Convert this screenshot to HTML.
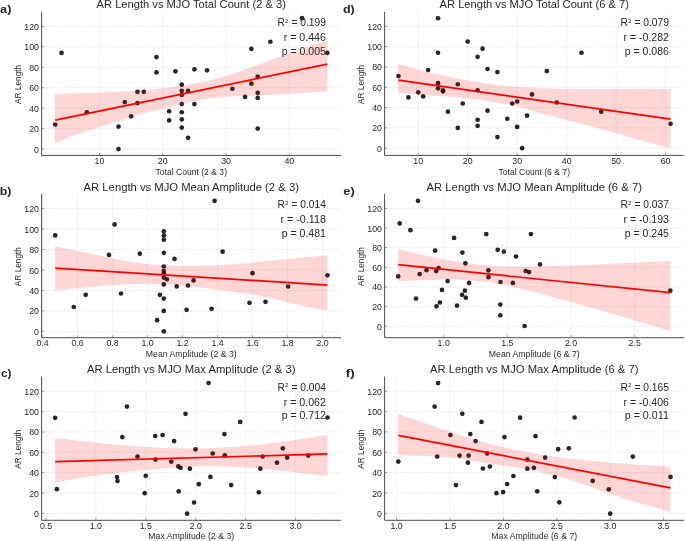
<!DOCTYPE html>
<html><head><meta charset="utf-8"><style>
html,body{margin:0;padding:0;background:#fff;overflow:hidden;}
svg{display:block;will-change:transform;}
text{font-family:"Liberation Sans",sans-serif;}
</style></head><body>
<svg width="685" height="541" viewBox="0 0 685 541">
<rect width="685" height="541" fill="#fff"/>
<path d="M41.6 149.05H340.9 M41.6 128.61H340.9 M41.6 108.17H340.9 M41.6 87.72H340.9 M41.6 67.28H340.9 M41.6 46.84H340.9 M41.6 26.4H340.9 M99.5 11.8V155.45 M162.78 11.8V155.45 M226.06 11.8V155.45 M289.34 11.8V155.45" stroke="#e0e0e0" stroke-width="0.8" stroke-dasharray="1.1 1.1" fill="none"/>
<g fill="#000" fill-opacity="0.85"><circle cx="55.21" cy="124.52" r="2.35"/><circle cx="61.53" cy="52.97" r="2.35"/><circle cx="86.85" cy="112.26" r="2.35"/><circle cx="118.49" cy="126.56" r="2.35"/><circle cx="118.49" cy="149.05" r="2.35"/><circle cx="124.81" cy="102.03" r="2.35"/><circle cx="131.14" cy="116.34" r="2.35"/><circle cx="137.47" cy="91.81" r="2.35"/><circle cx="143.8" cy="91.81" r="2.35"/><circle cx="137.47" cy="103.06" r="2.35"/><circle cx="156.45" cy="57.06" r="2.35"/><circle cx="156.45" cy="72.39" r="2.35"/><circle cx="169.11" cy="111.23" r="2.35"/><circle cx="169.11" cy="120.43" r="2.35"/><circle cx="175.44" cy="71.37" r="2.35"/><circle cx="181.77" cy="84.66" r="2.35"/><circle cx="181.77" cy="90.79" r="2.35"/><circle cx="181.77" cy="94.88" r="2.35"/><circle cx="181.77" cy="104.08" r="2.35"/><circle cx="181.77" cy="112.26" r="2.35"/><circle cx="181.77" cy="119.41" r="2.35"/><circle cx="181.77" cy="127.59" r="2.35"/><circle cx="188.09" cy="90.79" r="2.35"/><circle cx="188.09" cy="137.81" r="2.35"/><circle cx="194.42" cy="69.33" r="2.35"/><circle cx="194.42" cy="104.08" r="2.35"/><circle cx="207.08" cy="70.35" r="2.35"/><circle cx="232.39" cy="88.75" r="2.35"/><circle cx="245.05" cy="96.92" r="2.35"/><circle cx="251.37" cy="48.89" r="2.35"/><circle cx="251.37" cy="83.64" r="2.35"/><circle cx="257.7" cy="76.48" r="2.35"/><circle cx="257.7" cy="92.84" r="2.35"/><circle cx="257.7" cy="97.95" r="2.35"/><circle cx="257.7" cy="128.61" r="2.35"/><circle cx="270.36" cy="41.73" r="2.35"/><circle cx="302" cy="18.22" r="2.35"/><circle cx="327.31" cy="52.97" r="2.35"/></g>
<polygon points="54.9,93.85 59.52,93.69 64.14,93.55 68.76,93.41 73.37,93.27 77.99,93.14 82.61,93.01 87.23,92.88 91.85,92.75 96.47,92.6 101.09,92.45 105.71,92.29 110.32,92.11 114.94,91.92 119.56,91.71 124.18,91.47 128.8,91.22 133.42,90.93 138.04,90.62 142.65,90.28 147.27,89.9 151.89,89.49 156.51,89.04 161.13,88.55 165.75,88.02 170.37,87.44 174.98,86.81 179.6,86.13 184.22,85.4 188.84,84.62 193.46,83.78 198.08,82.87 202.7,81.91 207.32,80.88 211.93,79.78 216.55,78.62 221.17,77.38 225.79,76.06 230.41,74.67 235.03,73.2 239.65,71.66 244.26,70.04 248.88,68.36 253.5,66.64 258.12,64.88 262.74,63.1 267.36,61.31 271.98,59.51 276.59,57.73 281.21,55.97 285.83,54.24 290.45,52.54 295.07,50.89 299.69,49.28 304.31,47.73 308.93,46.25 313.54,44.83 318.16,43.5 322.78,42.25 327.4,41.09 327.4,91.58 322.78,91.79 318.16,92.03 313.54,92.28 308.93,92.55 304.31,92.83 299.69,93.12 295.07,93.4 290.45,93.69 285.83,93.98 281.21,94.25 276.59,94.52 271.98,94.77 267.36,95 262.74,95.21 258.12,95.39 253.5,95.55 248.88,95.69 244.26,95.83 239.65,95.99 235.03,96.18 230.41,96.41 225.79,96.69 221.17,97.05 216.55,97.49 211.93,98.03 207.32,98.69 202.7,99.47 198.08,100.4 193.46,101.45 188.84,102.57 184.22,103.72 179.6,104.83 174.98,105.91 170.37,106.97 165.75,108.02 161.13,109.09 156.51,110.19 151.89,111.33 147.27,112.53 142.65,113.79 138.04,115.11 133.42,116.48 128.8,117.89 124.18,119.33 119.56,120.78 114.94,122.25 110.32,123.72 105.71,125.19 101.09,126.65 96.47,128.12 91.85,129.6 87.23,131.11 82.61,132.64 77.99,134.21 73.37,135.83 68.76,137.5 64.14,139.24 59.52,141.04 54.9,142.91" fill="rgb(255,0,0)" fill-opacity="0.16"/>
<line x1="55.21" y1="120.09" x2="327.31" y2="64.16" stroke="#ff0000" stroke-width="1.7"/>
<path d="M41.6 149.05h2.5 M41.6 128.61h2.5 M41.6 108.17h2.5 M41.6 87.72h2.5 M41.6 67.28h2.5 M41.6 46.84h2.5 M41.6 26.4h2.5 M99.5 155.45v-2.5 M162.78 155.45v-2.5 M226.06 155.45v-2.5 M289.34 155.45v-2.5" stroke="#8a8a8a" stroke-width="0.8" fill="none"/>
<path d="M41.6 11.8V155.45H340.9" stroke="#4d4d4d" stroke-width="1" fill="none"/>
<text x="39" y="152.55" font-size="8.2" text-anchor="end" textLength="4.90" lengthAdjust="spacingAndGlyphs" fill="#282828">0</text>
<text x="39" y="132.11" font-size="8.2" text-anchor="end" textLength="9.80" lengthAdjust="spacingAndGlyphs" fill="#282828">20</text>
<text x="39" y="111.67" font-size="8.2" text-anchor="end" textLength="9.80" lengthAdjust="spacingAndGlyphs" fill="#282828">40</text>
<text x="39" y="91.22" font-size="8.2" text-anchor="end" textLength="9.80" lengthAdjust="spacingAndGlyphs" fill="#282828">60</text>
<text x="39" y="70.78" font-size="8.2" text-anchor="end" textLength="9.80" lengthAdjust="spacingAndGlyphs" fill="#282828">80</text>
<text x="39" y="50.34" font-size="8.2" text-anchor="end" textLength="14.70" lengthAdjust="spacingAndGlyphs" fill="#282828">100</text>
<text x="39" y="29.9" font-size="8.2" text-anchor="end" textLength="14.70" lengthAdjust="spacingAndGlyphs" fill="#282828">120</text>
<text x="99.5" y="163.95" font-size="8.2" text-anchor="middle" textLength="9.80" lengthAdjust="spacingAndGlyphs" fill="#282828">10</text>
<text x="162.78" y="163.95" font-size="8.2" text-anchor="middle" textLength="9.80" lengthAdjust="spacingAndGlyphs" fill="#282828">20</text>
<text x="226.06" y="163.95" font-size="8.2" text-anchor="middle" textLength="9.80" lengthAdjust="spacingAndGlyphs" fill="#282828">30</text>
<text x="289.34" y="163.95" font-size="8.2" text-anchor="middle" textLength="9.80" lengthAdjust="spacingAndGlyphs" fill="#282828">40</text>
<text x="191.25" y="8.4" font-size="11.2" text-anchor="middle" textLength="189.38" lengthAdjust="spacingAndGlyphs" fill="#282828">AR Length vs MJO Total Count (2 &amp; 3)</text>
<text x="191.25" y="174.55" font-size="8.5" text-anchor="middle" textLength="71.51" lengthAdjust="spacingAndGlyphs" fill="#282828">Total Count (2 &amp; 3)</text>
<text x="20.9" y="84.42" font-size="8.5" text-anchor="middle" textLength="39.11" lengthAdjust="spacingAndGlyphs" fill="#282828" transform="rotate(-90 20.9 84.42)">AR Length</text>
<text x="325.93" y="26" font-size="10.0" text-anchor="end" textLength="48.35" lengthAdjust="spacingAndGlyphs" fill="#282828">R<tspan font-size="6.20" dy="-3.2">2</tspan><tspan dy="3.2"> = 0.199</tspan></text>
<text x="325.93" y="41.1" font-size="10.0" text-anchor="end" textLength="42.25" lengthAdjust="spacingAndGlyphs" fill="#282828">r = 0.446</text>
<text x="325.93" y="54.8" font-size="10.0" text-anchor="end" textLength="44.24" lengthAdjust="spacingAndGlyphs" fill="#282828">p = 0.005</text>
<text x="11.4" y="12.9" font-size="10.6" text-anchor="end" font-weight="bold" textLength="11.32" lengthAdjust="spacingAndGlyphs" fill="#282828">a)</text>
<path d="M41.6 331.4H340.9 M41.6 310.93H340.9 M41.6 290.47H340.9 M41.6 270H340.9 M41.6 249.53H340.9 M41.6 229.07H340.9 M41.6 208.6H340.9 M42.6 193.9V337.7 M77.6 193.9V337.7 M112.6 193.9V337.7 M147.6 193.9V337.7 M182.6 193.9V337.7 M217.6 193.9V337.7 M252.6 193.9V337.7 M287.6 193.9V337.7 M322.6 193.9V337.7" stroke="#e0e0e0" stroke-width="0.8" stroke-dasharray="1.1 1.1" fill="none"/>
<g fill="#000" fill-opacity="0.85"><circle cx="55.2" cy="235.4" r="2.35"/><circle cx="114.6" cy="224.4" r="2.35"/><circle cx="109" cy="254.9" r="2.35"/><circle cx="73.8" cy="307" r="2.35"/><circle cx="85.7" cy="294.8" r="2.35"/><circle cx="214.6" cy="200.8" r="2.35"/><circle cx="163.8" cy="231.4" r="2.35"/><circle cx="163.8" cy="235.5" r="2.35"/><circle cx="163.8" cy="239.7" r="2.35"/><circle cx="163.8" cy="252.8" r="2.35"/><circle cx="139.8" cy="253.7" r="2.35"/><circle cx="174.5" cy="258.9" r="2.35"/><circle cx="222.6" cy="251.7" r="2.35"/><circle cx="163.8" cy="266.5" r="2.35"/><circle cx="163.8" cy="271" r="2.35"/><circle cx="163.8" cy="273.4" r="2.35"/><circle cx="163.8" cy="277.6" r="2.35"/><circle cx="166.9" cy="279.3" r="2.35"/><circle cx="163.8" cy="284.4" r="2.35"/><circle cx="176.7" cy="286.4" r="2.35"/><circle cx="188" cy="285.5" r="2.35"/><circle cx="193.6" cy="280.4" r="2.35"/><circle cx="121" cy="293.5" r="2.35"/><circle cx="159.9" cy="294.8" r="2.35"/><circle cx="163.8" cy="298.6" r="2.35"/><circle cx="163.8" cy="310.9" r="2.35"/><circle cx="186.6" cy="309.8" r="2.35"/><circle cx="211.6" cy="308.8" r="2.35"/><circle cx="157.1" cy="320.2" r="2.35"/><circle cx="163.8" cy="331.4" r="2.35"/><circle cx="252.5" cy="273.2" r="2.35"/><circle cx="327.5" cy="275.3" r="2.35"/><circle cx="288.1" cy="286.5" r="2.35"/><circle cx="249.5" cy="302.8" r="2.35"/><circle cx="265.5" cy="301.8" r="2.35"/></g>
<polygon points="55.1,246.45 59.72,247.28 64.33,248.15 68.95,249.06 73.57,249.99 78.18,250.95 82.8,251.93 87.42,252.92 92.04,253.93 96.65,254.93 101.27,255.93 105.89,256.92 110.5,257.9 115.12,258.86 119.74,259.78 124.35,260.64 128.97,261.44 133.59,262.17 138.21,262.83 142.82,263.42 147.44,263.94 152.06,264.4 156.67,264.8 161.29,265.14 165.91,265.42 170.52,265.65 175.14,265.82 179.76,265.94 184.37,266 188.99,266.02 193.61,266 198.23,265.92 202.84,265.81 207.46,265.66 212.08,265.47 216.69,265.24 221.31,264.99 225.93,264.7 230.54,264.38 235.16,264.04 239.78,263.68 244.39,263.29 249.01,262.88 253.63,262.46 258.25,262.02 262.86,261.57 267.48,261.11 272.1,260.64 276.71,260.16 281.33,259.68 285.95,259.2 290.56,258.72 295.18,258.24 299.8,257.77 304.42,257.31 309.03,256.86 313.65,256.41 318.27,255.99 322.88,255.58 327.5,255.18 327.5,310.08 322.88,309.7 318.27,309.12 313.65,308.37 309.03,307.47 304.42,306.45 299.8,305.34 295.18,304.17 290.56,302.96 285.95,301.74 281.33,300.55 276.71,299.4 272.1,298.33 267.48,297.35 262.86,296.44 258.25,295.6 253.63,294.82 249.01,294.08 244.39,293.39 239.78,292.72 235.16,292.07 230.54,291.43 225.93,290.8 221.31,290.17 216.69,289.55 212.08,288.95 207.46,288.36 202.84,287.79 198.23,287.25 193.61,286.73 188.99,286.25 184.37,285.8 179.76,285.38 175.14,285.01 170.52,284.69 165.91,284.41 161.29,284.18 156.67,284.01 152.06,283.9 147.44,283.85 142.82,283.86 138.21,283.93 133.59,284.05 128.97,284.22 124.35,284.44 119.74,284.7 115.12,284.99 110.5,285.32 105.89,285.67 101.27,286.05 96.65,286.45 92.04,286.87 87.42,287.3 82.8,287.73 78.18,288.17 73.57,288.61 68.95,289.05 64.33,289.48 59.72,289.89 55.1,290.29" fill="rgb(255,0,0)" fill-opacity="0.16"/>
<line x1="55.2" y1="268.1" x2="327.5" y2="285.05" stroke="#ff0000" stroke-width="1.7"/>
<path d="M41.6 331.4h2.5 M41.6 310.93h2.5 M41.6 290.47h2.5 M41.6 270h2.5 M41.6 249.53h2.5 M41.6 229.07h2.5 M41.6 208.6h2.5 M42.6 337.7v-2.5 M77.6 337.7v-2.5 M112.6 337.7v-2.5 M147.6 337.7v-2.5 M182.6 337.7v-2.5 M217.6 337.7v-2.5 M252.6 337.7v-2.5 M287.6 337.7v-2.5 M322.6 337.7v-2.5" stroke="#8a8a8a" stroke-width="0.8" fill="none"/>
<path d="M41.6 193.9V337.7H340.9" stroke="#4d4d4d" stroke-width="1" fill="none"/>
<text x="39" y="334.9" font-size="8.2" text-anchor="end" textLength="4.90" lengthAdjust="spacingAndGlyphs" fill="#282828">0</text>
<text x="39" y="314.43" font-size="8.2" text-anchor="end" textLength="9.80" lengthAdjust="spacingAndGlyphs" fill="#282828">20</text>
<text x="39" y="293.97" font-size="8.2" text-anchor="end" textLength="9.80" lengthAdjust="spacingAndGlyphs" fill="#282828">40</text>
<text x="39" y="273.5" font-size="8.2" text-anchor="end" textLength="9.80" lengthAdjust="spacingAndGlyphs" fill="#282828">60</text>
<text x="39" y="253.03" font-size="8.2" text-anchor="end" textLength="9.80" lengthAdjust="spacingAndGlyphs" fill="#282828">80</text>
<text x="39" y="232.57" font-size="8.2" text-anchor="end" textLength="14.70" lengthAdjust="spacingAndGlyphs" fill="#282828">100</text>
<text x="39" y="212.1" font-size="8.2" text-anchor="end" textLength="14.70" lengthAdjust="spacingAndGlyphs" fill="#282828">120</text>
<text x="42.6" y="346.2" font-size="8.2" text-anchor="middle" textLength="12.25" lengthAdjust="spacingAndGlyphs" fill="#282828">0.4</text>
<text x="77.6" y="346.2" font-size="8.2" text-anchor="middle" textLength="12.25" lengthAdjust="spacingAndGlyphs" fill="#282828">0.6</text>
<text x="112.6" y="346.2" font-size="8.2" text-anchor="middle" textLength="12.25" lengthAdjust="spacingAndGlyphs" fill="#282828">0.8</text>
<text x="147.6" y="346.2" font-size="8.2" text-anchor="middle" textLength="12.25" lengthAdjust="spacingAndGlyphs" fill="#282828">1.0</text>
<text x="182.6" y="346.2" font-size="8.2" text-anchor="middle" textLength="12.25" lengthAdjust="spacingAndGlyphs" fill="#282828">1.2</text>
<text x="217.6" y="346.2" font-size="8.2" text-anchor="middle" textLength="12.25" lengthAdjust="spacingAndGlyphs" fill="#282828">1.4</text>
<text x="252.6" y="346.2" font-size="8.2" text-anchor="middle" textLength="12.25" lengthAdjust="spacingAndGlyphs" fill="#282828">1.6</text>
<text x="287.6" y="346.2" font-size="8.2" text-anchor="middle" textLength="12.25" lengthAdjust="spacingAndGlyphs" fill="#282828">1.8</text>
<text x="322.6" y="346.2" font-size="8.2" text-anchor="middle" textLength="12.25" lengthAdjust="spacingAndGlyphs" fill="#282828">2.0</text>
<text x="191.25" y="191.1" font-size="11.2" text-anchor="middle" textLength="215.33" lengthAdjust="spacingAndGlyphs" fill="#282828">AR Length vs MJO Mean Amplitude (2 &amp; 3)</text>
<text x="191.25" y="356.8" font-size="8.5" text-anchor="middle" textLength="90.84" lengthAdjust="spacingAndGlyphs" fill="#282828">Mean Amplitude (2 &amp; 3)</text>
<text x="20.9" y="266.6" font-size="8.5" text-anchor="middle" textLength="39.11" lengthAdjust="spacingAndGlyphs" fill="#282828" transform="rotate(-90 20.9 266.6)">AR Length</text>
<text x="325.93" y="208.1" font-size="10.0" text-anchor="end" textLength="48.35" lengthAdjust="spacingAndGlyphs" fill="#282828">R<tspan font-size="6.20" dy="-3.2">2</tspan><tspan dy="3.2"> = 0.014</tspan></text>
<text x="325.93" y="223.2" font-size="10.0" text-anchor="end" textLength="45.46" lengthAdjust="spacingAndGlyphs" fill="#282828">r = -0.118</text>
<text x="325.93" y="236.9" font-size="10.0" text-anchor="end" textLength="44.24" lengthAdjust="spacingAndGlyphs" fill="#282828">p = 0.481</text>
<text x="11.4" y="195" font-size="10.6" text-anchor="end" font-weight="bold" textLength="11.73" lengthAdjust="spacingAndGlyphs" fill="#282828">b)</text>
<path d="M41.6 513.4H340.9 M41.6 493.04H340.9 M41.6 472.68H340.9 M41.6 452.32H340.9 M41.6 431.97H340.9 M41.6 411.61H340.9 M41.6 391.25H340.9 M46 376.5V520.3 M95.92 376.5V520.3 M145.84 376.5V520.3 M195.76 376.5V520.3 M245.68 376.5V520.3 M295.6 376.5V520.3" stroke="#e0e0e0" stroke-width="0.8" stroke-dasharray="1.1 1.1" fill="none"/>
<g fill="#000" fill-opacity="0.85"><circle cx="55.2" cy="417.8" r="2.35"/><circle cx="56.9" cy="489.2" r="2.35"/><circle cx="117" cy="477" r="2.35"/><circle cx="117.5" cy="481" r="2.35"/><circle cx="127" cy="406.6" r="2.35"/><circle cx="208.6" cy="383" r="2.35"/><circle cx="185.5" cy="413.8" r="2.35"/><circle cx="122.3" cy="437.1" r="2.35"/><circle cx="155.2" cy="436" r="2.35"/><circle cx="162.6" cy="435" r="2.35"/><circle cx="174.1" cy="441.1" r="2.35"/><circle cx="224.4" cy="434.1" r="2.35"/><circle cx="195.5" cy="449.3" r="2.35"/><circle cx="212.7" cy="453.5" r="2.35"/><circle cx="224.8" cy="455.4" r="2.35"/><circle cx="137.5" cy="456.5" r="2.35"/><circle cx="155.5" cy="459.6" r="2.35"/><circle cx="171.3" cy="461.6" r="2.35"/><circle cx="178.3" cy="466.4" r="2.35"/><circle cx="180.6" cy="467.8" r="2.35"/><circle cx="189.9" cy="468.7" r="2.35"/><circle cx="145.7" cy="475.8" r="2.35"/><circle cx="210.4" cy="476.9" r="2.35"/><circle cx="198.8" cy="484.2" r="2.35"/><circle cx="231.1" cy="485.1" r="2.35"/><circle cx="144.7" cy="493.2" r="2.35"/><circle cx="178.7" cy="491.3" r="2.35"/><circle cx="194.1" cy="502.5" r="2.35"/><circle cx="187.1" cy="513.7" r="2.35"/><circle cx="240.2" cy="421.9" r="2.35"/><circle cx="327.5" cy="417.5" r="2.35"/><circle cx="282.8" cy="448.3" r="2.35"/><circle cx="262.7" cy="456.5" r="2.35"/><circle cx="287.2" cy="457.6" r="2.35"/><circle cx="308.2" cy="455.6" r="2.35"/><circle cx="277" cy="462.7" r="2.35"/><circle cx="260.4" cy="468.7" r="2.35"/><circle cx="258.8" cy="492.3" r="2.35"/></g>
<polygon points="55.1,437.97 59.72,438.52 64.33,439.07 68.95,439.62 73.57,440.15 78.18,440.68 82.8,441.2 87.42,441.72 92.04,442.22 96.65,442.7 101.27,443.18 105.89,443.64 110.5,444.09 115.12,444.52 119.74,444.93 124.35,445.32 128.97,445.7 133.59,446.05 138.21,446.39 142.82,446.7 147.44,446.99 152.06,447.25 156.67,447.49 161.29,447.71 165.91,447.89 170.52,448.05 175.14,448.17 179.76,448.27 184.37,448.34 188.99,448.37 193.61,448.37 198.23,448.33 202.84,448.26 207.46,448.15 212.08,448 216.69,447.82 221.31,447.6 225.93,447.35 230.54,447.06 235.16,446.73 239.78,446.38 244.39,445.99 249.01,445.58 253.63,445.13 258.25,444.66 262.86,444.16 267.48,443.64 272.1,443.09 276.71,442.51 281.33,441.92 285.95,441.3 290.56,440.66 295.18,440 299.8,439.32 304.42,438.62 309.03,437.91 313.65,437.18 318.27,436.43 322.88,435.68 327.5,434.91 327.5,476.24 322.88,475.69 318.27,475.13 313.65,474.57 309.03,474.02 304.42,473.46 299.8,472.91 295.18,472.37 290.56,471.84 285.95,471.32 281.33,470.81 276.71,470.32 272.1,469.84 267.48,469.39 262.86,468.96 258.25,468.55 253.63,468.17 249.01,467.82 244.39,467.49 239.78,467.21 235.16,466.95 230.54,466.74 225.93,466.56 221.31,466.42 216.69,466.33 212.08,466.29 207.46,466.29 202.84,466.34 198.23,466.44 193.61,466.58 188.99,466.76 184.37,466.98 179.76,467.23 175.14,467.52 170.52,467.83 165.91,468.17 161.29,468.53 156.67,468.91 152.06,469.31 147.44,469.73 142.82,470.15 138.21,470.59 133.59,471.05 128.97,471.53 124.35,472.02 119.74,472.53 115.12,473.07 110.5,473.63 105.89,474.21 101.27,474.81 96.65,475.45 92.04,476.11 87.42,476.8 82.8,477.52 78.18,478.28 73.57,479.07 68.95,479.89 64.33,480.75 59.72,481.64 55.1,482.58" fill="rgb(255,0,0)" fill-opacity="0.16"/>
<line x1="55.2" y1="461.63" x2="327.5" y2="453.97" stroke="#ff0000" stroke-width="1.7"/>
<path d="M41.6 513.4h2.5 M41.6 493.04h2.5 M41.6 472.68h2.5 M41.6 452.32h2.5 M41.6 431.97h2.5 M41.6 411.61h2.5 M41.6 391.25h2.5 M46 520.3v-2.5 M95.92 520.3v-2.5 M145.84 520.3v-2.5 M195.76 520.3v-2.5 M245.68 520.3v-2.5 M295.6 520.3v-2.5" stroke="#8a8a8a" stroke-width="0.8" fill="none"/>
<path d="M41.6 376.5V520.3H340.9" stroke="#4d4d4d" stroke-width="1" fill="none"/>
<text x="39" y="516.9" font-size="8.2" text-anchor="end" textLength="4.90" lengthAdjust="spacingAndGlyphs" fill="#282828">0</text>
<text x="39" y="496.54" font-size="8.2" text-anchor="end" textLength="9.80" lengthAdjust="spacingAndGlyphs" fill="#282828">20</text>
<text x="39" y="476.18" font-size="8.2" text-anchor="end" textLength="9.80" lengthAdjust="spacingAndGlyphs" fill="#282828">40</text>
<text x="39" y="455.82" font-size="8.2" text-anchor="end" textLength="9.80" lengthAdjust="spacingAndGlyphs" fill="#282828">60</text>
<text x="39" y="435.47" font-size="8.2" text-anchor="end" textLength="9.80" lengthAdjust="spacingAndGlyphs" fill="#282828">80</text>
<text x="39" y="415.11" font-size="8.2" text-anchor="end" textLength="14.70" lengthAdjust="spacingAndGlyphs" fill="#282828">100</text>
<text x="39" y="394.75" font-size="8.2" text-anchor="end" textLength="14.70" lengthAdjust="spacingAndGlyphs" fill="#282828">120</text>
<text x="46" y="528.8" font-size="8.2" text-anchor="middle" textLength="12.25" lengthAdjust="spacingAndGlyphs" fill="#282828">0.5</text>
<text x="95.92" y="528.8" font-size="8.2" text-anchor="middle" textLength="12.25" lengthAdjust="spacingAndGlyphs" fill="#282828">1.0</text>
<text x="145.84" y="528.8" font-size="8.2" text-anchor="middle" textLength="12.25" lengthAdjust="spacingAndGlyphs" fill="#282828">1.5</text>
<text x="195.76" y="528.8" font-size="8.2" text-anchor="middle" textLength="12.25" lengthAdjust="spacingAndGlyphs" fill="#282828">2.0</text>
<text x="245.68" y="528.8" font-size="8.2" text-anchor="middle" textLength="12.25" lengthAdjust="spacingAndGlyphs" fill="#282828">2.5</text>
<text x="295.6" y="528.8" font-size="8.2" text-anchor="middle" textLength="12.25" lengthAdjust="spacingAndGlyphs" fill="#282828">3.0</text>
<text x="191.25" y="373.3" font-size="11.2" text-anchor="middle" textLength="208.62" lengthAdjust="spacingAndGlyphs" fill="#282828">AR Length vs MJO Max Amplitude (2 &amp; 3)</text>
<text x="191.25" y="539.4" font-size="8.5" text-anchor="middle" textLength="85.85" lengthAdjust="spacingAndGlyphs" fill="#282828">Max Amplitude (2 &amp; 3)</text>
<text x="20.9" y="449.2" font-size="8.5" text-anchor="middle" textLength="39.11" lengthAdjust="spacingAndGlyphs" fill="#282828" transform="rotate(-90 20.9 449.2)">AR Length</text>
<text x="325.93" y="390.5" font-size="10.0" text-anchor="end" textLength="48.35" lengthAdjust="spacingAndGlyphs" fill="#282828">R<tspan font-size="6.20" dy="-3.2">2</tspan><tspan dy="3.2"> = 0.004</tspan></text>
<text x="325.93" y="405.6" font-size="10.0" text-anchor="end" textLength="42.25" lengthAdjust="spacingAndGlyphs" fill="#282828">r = 0.062</text>
<text x="325.93" y="419.3" font-size="10.0" text-anchor="end" textLength="44.24" lengthAdjust="spacingAndGlyphs" fill="#282828">p = 0.712</text>
<text x="11.4" y="377.4" font-size="10.6" text-anchor="end" font-weight="bold" textLength="10.50" lengthAdjust="spacingAndGlyphs" fill="#282828">c)</text>
<path d="M384.6 148.2H683.9 M384.6 127.89H683.9 M384.6 107.58H683.9 M384.6 87.27H683.9 M384.6 66.97H683.9 M384.6 46.66H683.9 M384.6 26.35H683.9 M418.24 11.8V155.45 M467.71 11.8V155.45 M517.18 11.8V155.45 M566.65 11.8V155.45 M616.12 11.8V155.45 M665.59 11.8V155.45" stroke="#e0e0e0" stroke-width="0.8" stroke-dasharray="1.1 1.1" fill="none"/>
<g fill="#000" fill-opacity="0.85"><circle cx="398.45" cy="76.11" r="2.35"/><circle cx="408.35" cy="97.43" r="2.35"/><circle cx="418.24" cy="92.35" r="2.35"/><circle cx="423.19" cy="96.41" r="2.35"/><circle cx="428.14" cy="70.01" r="2.35"/><circle cx="438.03" cy="52.75" r="2.35"/><circle cx="438.03" cy="18.23" r="2.35"/><circle cx="438.03" cy="83.21" r="2.35"/><circle cx="438.03" cy="88.29" r="2.35"/><circle cx="442.98" cy="90.32" r="2.35"/><circle cx="442.98" cy="91.34" r="2.35"/><circle cx="447.92" cy="111.64" r="2.35"/><circle cx="457.82" cy="84.23" r="2.35"/><circle cx="457.82" cy="127.89" r="2.35"/><circle cx="462.77" cy="103.52" r="2.35"/><circle cx="467.71" cy="41.58" r="2.35"/><circle cx="477.61" cy="56.81" r="2.35"/><circle cx="477.61" cy="90.32" r="2.35"/><circle cx="477.61" cy="119.77" r="2.35"/><circle cx="477.61" cy="125.86" r="2.35"/><circle cx="482.55" cy="48.69" r="2.35"/><circle cx="487.5" cy="69" r="2.35"/><circle cx="487.5" cy="110.63" r="2.35"/><circle cx="497.39" cy="72.04" r="2.35"/><circle cx="497.39" cy="137.03" r="2.35"/><circle cx="507.29" cy="118.75" r="2.35"/><circle cx="512.24" cy="103.52" r="2.35"/><circle cx="517.18" cy="101.49" r="2.35"/><circle cx="517.18" cy="126.88" r="2.35"/><circle cx="522.13" cy="148.2" r="2.35"/><circle cx="527.08" cy="115.71" r="2.35"/><circle cx="532.02" cy="94.38" r="2.35"/><circle cx="546.86" cy="71.03" r="2.35"/><circle cx="556.76" cy="102.51" r="2.35"/><circle cx="581.49" cy="52.75" r="2.35"/><circle cx="601.28" cy="111.64" r="2.35"/><circle cx="670.54" cy="123.83" r="2.35"/></g>
<polygon points="398.1,63.96 402.72,65.27 407.33,66.54 411.95,67.79 416.57,69.02 421.18,70.22 425.8,71.39 430.42,72.52 435.04,73.63 439.65,74.71 444.27,75.75 448.89,76.75 453.5,77.72 458.12,78.65 462.74,79.55 467.35,80.4 471.97,81.21 476.59,81.98 481.21,82.7 485.82,83.38 490.44,84.02 495.06,84.6 499.67,85.14 504.29,85.64 508.91,86.1 513.52,86.51 518.14,86.89 522.76,87.23 527.37,87.53 531.99,87.8 536.61,88.04 541.23,88.25 545.84,88.43 550.46,88.59 555.08,88.72 559.69,88.83 564.31,88.91 568.93,88.98 573.54,89.03 578.16,89.06 582.78,89.08 587.39,89.09 592.01,89.09 596.63,89.07 601.25,89.05 605.86,89.03 610.48,89 615.1,88.97 619.71,88.93 624.33,88.9 628.95,88.88 633.56,88.85 638.18,88.84 642.8,88.83 647.42,88.83 652.03,88.85 656.65,88.88 661.27,88.92 665.88,88.98 670.5,89.06 670.5,148.56 665.88,147.36 661.27,146.13 656.65,144.87 652.03,143.6 647.42,142.31 642.8,141 638.18,139.69 633.56,138.36 628.95,137.03 624.33,135.7 619.71,134.37 615.1,133.05 610.48,131.73 605.86,130.43 601.25,129.13 596.63,127.86 592.01,126.61 587.39,125.38 582.78,124.18 578.16,123 573.54,121.84 568.93,120.68 564.31,119.53 559.69,118.37 555.08,117.19 550.46,115.99 545.84,114.76 541.23,113.48 536.61,112.16 531.99,110.78 527.37,109.38 522.76,108 518.14,106.73 513.52,105.6 508.91,104.59 504.29,103.7 499.67,102.88 495.06,102.13 490.44,101.41 485.82,100.71 481.21,100.04 476.59,99.4 471.97,98.79 467.35,98.24 462.74,97.75 458.12,97.31 453.5,96.92 448.89,96.57 444.27,96.25 439.65,95.96 435.04,95.67 430.42,95.39 425.8,95.11 421.18,94.81 416.57,94.49 411.95,94.14 407.33,93.76 402.72,93.32 398.1,92.83" fill="rgb(255,0,0)" fill-opacity="0.16"/>
<line x1="398.45" y1="80.15" x2="670.54" y2="119.06" stroke="#ff0000" stroke-width="1.7"/>
<path d="M384.6 148.2h2.5 M384.6 127.89h2.5 M384.6 107.58h2.5 M384.6 87.27h2.5 M384.6 66.97h2.5 M384.6 46.66h2.5 M384.6 26.35h2.5 M418.24 155.45v-2.5 M467.71 155.45v-2.5 M517.18 155.45v-2.5 M566.65 155.45v-2.5 M616.12 155.45v-2.5 M665.59 155.45v-2.5" stroke="#8a8a8a" stroke-width="0.8" fill="none"/>
<path d="M384.6 11.8V155.45H683.9" stroke="#4d4d4d" stroke-width="1" fill="none"/>
<text x="382" y="151.7" font-size="8.2" text-anchor="end" textLength="4.90" lengthAdjust="spacingAndGlyphs" fill="#282828">0</text>
<text x="382" y="131.39" font-size="8.2" text-anchor="end" textLength="9.80" lengthAdjust="spacingAndGlyphs" fill="#282828">20</text>
<text x="382" y="111.08" font-size="8.2" text-anchor="end" textLength="9.80" lengthAdjust="spacingAndGlyphs" fill="#282828">40</text>
<text x="382" y="90.77" font-size="8.2" text-anchor="end" textLength="9.80" lengthAdjust="spacingAndGlyphs" fill="#282828">60</text>
<text x="382" y="70.47" font-size="8.2" text-anchor="end" textLength="9.80" lengthAdjust="spacingAndGlyphs" fill="#282828">80</text>
<text x="382" y="50.16" font-size="8.2" text-anchor="end" textLength="14.70" lengthAdjust="spacingAndGlyphs" fill="#282828">100</text>
<text x="382" y="29.85" font-size="8.2" text-anchor="end" textLength="14.70" lengthAdjust="spacingAndGlyphs" fill="#282828">120</text>
<text x="418.24" y="163.95" font-size="8.2" text-anchor="middle" textLength="9.80" lengthAdjust="spacingAndGlyphs" fill="#282828">10</text>
<text x="467.71" y="163.95" font-size="8.2" text-anchor="middle" textLength="9.80" lengthAdjust="spacingAndGlyphs" fill="#282828">20</text>
<text x="517.18" y="163.95" font-size="8.2" text-anchor="middle" textLength="9.80" lengthAdjust="spacingAndGlyphs" fill="#282828">30</text>
<text x="566.65" y="163.95" font-size="8.2" text-anchor="middle" textLength="9.80" lengthAdjust="spacingAndGlyphs" fill="#282828">40</text>
<text x="616.12" y="163.95" font-size="8.2" text-anchor="middle" textLength="9.80" lengthAdjust="spacingAndGlyphs" fill="#282828">50</text>
<text x="665.59" y="163.95" font-size="8.2" text-anchor="middle" textLength="9.80" lengthAdjust="spacingAndGlyphs" fill="#282828">60</text>
<text x="534.25" y="8.4" font-size="11.2" text-anchor="middle" textLength="189.38" lengthAdjust="spacingAndGlyphs" fill="#282828">AR Length vs MJO Total Count (6 &amp; 7)</text>
<text x="534.25" y="174.55" font-size="8.5" text-anchor="middle" textLength="71.51" lengthAdjust="spacingAndGlyphs" fill="#282828">Total Count (6 &amp; 7)</text>
<text x="363.9" y="84.42" font-size="8.5" text-anchor="middle" textLength="39.11" lengthAdjust="spacingAndGlyphs" fill="#282828" transform="rotate(-90 363.9 84.42)">AR Length</text>
<text x="668.93" y="26" font-size="10.0" text-anchor="end" textLength="48.35" lengthAdjust="spacingAndGlyphs" fill="#282828">R<tspan font-size="6.20" dy="-3.2">2</tspan><tspan dy="3.2"> = 0.079</tspan></text>
<text x="668.93" y="41.1" font-size="10.0" text-anchor="end" textLength="45.46" lengthAdjust="spacingAndGlyphs" fill="#282828">r = -0.282</text>
<text x="668.93" y="54.8" font-size="10.0" text-anchor="end" textLength="44.24" lengthAdjust="spacingAndGlyphs" fill="#282828">p = 0.086</text>
<text x="354.7" y="12.9" font-size="10.6" text-anchor="end" font-weight="bold" textLength="11.73" lengthAdjust="spacingAndGlyphs" fill="#282828">d)</text>
<path d="M384.6 326.25H683.9 M384.6 306.6H683.9 M384.6 286.95H683.9 M384.6 267.3H683.9 M384.6 247.65H683.9 M384.6 228H683.9 M384.6 208.35H683.9 M443.7 193.9V337.7 M507.37 193.9V337.7 M571.03 193.9V337.7 M634.69 193.9V337.7" stroke="#e0e0e0" stroke-width="0.8" stroke-dasharray="1.1 1.1" fill="none"/>
<g fill="#000" fill-opacity="0.85"><circle cx="418" cy="200.8" r="2.35"/><circle cx="399.7" cy="223.4" r="2.35"/><circle cx="410.4" cy="230.2" r="2.35"/><circle cx="435.1" cy="250.7" r="2.35"/><circle cx="454.1" cy="237.9" r="2.35"/><circle cx="398.2" cy="276.4" r="2.35"/><circle cx="416" cy="298.6" r="2.35"/><circle cx="419.7" cy="274.1" r="2.35"/><circle cx="426.5" cy="270.2" r="2.35"/><circle cx="436.2" cy="271.1" r="2.35"/><circle cx="438.6" cy="268.1" r="2.35"/><circle cx="436.5" cy="306.3" r="2.35"/><circle cx="439.9" cy="302.5" r="2.35"/><circle cx="442" cy="289.9" r="2.35"/><circle cx="447.6" cy="281.1" r="2.35"/><circle cx="457" cy="305.6" r="2.35"/><circle cx="486.3" cy="234.1" r="2.35"/><circle cx="530.9" cy="234.1" r="2.35"/><circle cx="462.4" cy="252.6" r="2.35"/><circle cx="497.7" cy="249.8" r="2.35"/><circle cx="503.8" cy="251.7" r="2.35"/><circle cx="516" cy="256.5" r="2.35"/><circle cx="540" cy="264.4" r="2.35"/><circle cx="465.4" cy="263.3" r="2.35"/><circle cx="488.4" cy="270.3" r="2.35"/><circle cx="525.7" cy="271" r="2.35"/><circle cx="529" cy="272.1" r="2.35"/><circle cx="488.4" cy="277.2" r="2.35"/><circle cx="500.5" cy="282" r="2.35"/><circle cx="512.9" cy="282.9" r="2.35"/><circle cx="469.1" cy="282.9" r="2.35"/><circle cx="464.9" cy="290.7" r="2.35"/><circle cx="462.1" cy="294.8" r="2.35"/><circle cx="465.8" cy="297.7" r="2.35"/><circle cx="500.3" cy="304.6" r="2.35"/><circle cx="500.3" cy="315.3" r="2.35"/><circle cx="524.6" cy="326" r="2.35"/><circle cx="670.3" cy="290.7" r="2.35"/></g>
<polygon points="398.1,249.03 402.72,250.17 407.33,251.3 411.95,252.41 416.56,253.5 421.18,254.56 425.79,255.6 430.41,256.6 435.02,257.58 439.64,258.52 444.25,259.42 448.87,260.28 453.48,261.1 458.1,261.87 462.71,262.59 467.33,263.25 471.94,263.87 476.56,264.42 481.17,264.92 485.79,265.35 490.41,265.71 495.02,266.01 499.64,266.24 504.25,266.41 508.87,266.53 513.48,266.61 518.1,266.64 522.71,266.63 527.33,266.59 531.94,266.53 536.56,266.44 541.17,266.33 545.79,266.22 550.4,266.09 555.02,265.96 559.63,265.83 564.25,265.69 568.86,265.55 573.48,265.39 578.09,265.23 582.71,265.06 587.33,264.88 591.94,264.68 596.56,264.48 601.17,264.27 605.79,264.05 610.4,263.83 615.02,263.61 619.63,263.38 624.25,263.15 628.86,262.92 633.48,262.69 638.09,262.47 642.71,262.25 647.32,262.03 651.94,261.82 656.55,261.62 661.17,261.42 665.78,261.24 670.4,261.07 670.4,331.09 665.78,329.7 661.17,328.31 656.55,326.92 651.94,325.54 647.32,324.16 642.71,322.78 638.09,321.4 633.48,320.03 628.86,318.67 624.25,317.3 619.63,315.94 615.02,314.59 610.4,313.24 605.79,311.9 601.17,310.57 596.56,309.24 591.94,307.92 587.33,306.6 582.71,305.3 578.09,304 573.48,302.71 568.86,301.43 564.25,300.16 559.63,298.9 555.02,297.66 550.4,296.42 545.79,295.19 541.17,293.97 536.56,292.77 531.94,291.58 527.33,290.4 522.71,289.23 518.1,288.08 513.48,286.94 508.87,285.86 504.25,284.85 499.64,283.93 495.02,283.11 490.41,282.38 485.79,281.73 481.17,281.16 476.56,280.67 471.94,280.26 467.33,279.92 462.71,279.67 458.1,279.49 453.48,279.39 448.87,279.38 444.25,279.44 439.64,279.56 435.02,279.72 430.41,279.92 425.79,280.13 421.18,280.34 416.56,280.54 411.95,280.71 407.33,280.83 402.72,280.9 398.1,280.9" fill="rgb(255,0,0)" fill-opacity="0.16"/>
<line x1="398.2" y1="264.71" x2="670.3" y2="292.66" stroke="#ff0000" stroke-width="1.7"/>
<path d="M384.6 326.25h2.5 M384.6 306.6h2.5 M384.6 286.95h2.5 M384.6 267.3h2.5 M384.6 247.65h2.5 M384.6 228h2.5 M384.6 208.35h2.5 M443.7 337.7v-2.5 M507.37 337.7v-2.5 M571.03 337.7v-2.5 M634.69 337.7v-2.5" stroke="#8a8a8a" stroke-width="0.8" fill="none"/>
<path d="M384.6 193.9V337.7H683.9" stroke="#4d4d4d" stroke-width="1" fill="none"/>
<text x="382" y="329.75" font-size="8.2" text-anchor="end" textLength="4.90" lengthAdjust="spacingAndGlyphs" fill="#282828">0</text>
<text x="382" y="310.1" font-size="8.2" text-anchor="end" textLength="9.80" lengthAdjust="spacingAndGlyphs" fill="#282828">20</text>
<text x="382" y="290.45" font-size="8.2" text-anchor="end" textLength="9.80" lengthAdjust="spacingAndGlyphs" fill="#282828">40</text>
<text x="382" y="270.8" font-size="8.2" text-anchor="end" textLength="9.80" lengthAdjust="spacingAndGlyphs" fill="#282828">60</text>
<text x="382" y="251.15" font-size="8.2" text-anchor="end" textLength="9.80" lengthAdjust="spacingAndGlyphs" fill="#282828">80</text>
<text x="382" y="231.5" font-size="8.2" text-anchor="end" textLength="14.70" lengthAdjust="spacingAndGlyphs" fill="#282828">100</text>
<text x="382" y="211.85" font-size="8.2" text-anchor="end" textLength="14.70" lengthAdjust="spacingAndGlyphs" fill="#282828">120</text>
<text x="443.7" y="346.2" font-size="8.2" text-anchor="middle" textLength="12.25" lengthAdjust="spacingAndGlyphs" fill="#282828">1.0</text>
<text x="507.37" y="346.2" font-size="8.2" text-anchor="middle" textLength="12.25" lengthAdjust="spacingAndGlyphs" fill="#282828">1.5</text>
<text x="571.03" y="346.2" font-size="8.2" text-anchor="middle" textLength="12.25" lengthAdjust="spacingAndGlyphs" fill="#282828">2.0</text>
<text x="634.69" y="346.2" font-size="8.2" text-anchor="middle" textLength="12.25" lengthAdjust="spacingAndGlyphs" fill="#282828">2.5</text>
<text x="534.25" y="191.1" font-size="11.2" text-anchor="middle" textLength="215.33" lengthAdjust="spacingAndGlyphs" fill="#282828">AR Length vs MJO Mean Amplitude (6 &amp; 7)</text>
<text x="534.25" y="356.8" font-size="8.5" text-anchor="middle" textLength="90.84" lengthAdjust="spacingAndGlyphs" fill="#282828">Mean Amplitude (6 &amp; 7)</text>
<text x="363.9" y="266.6" font-size="8.5" text-anchor="middle" textLength="39.11" lengthAdjust="spacingAndGlyphs" fill="#282828" transform="rotate(-90 363.9 266.6)">AR Length</text>
<text x="668.93" y="208.1" font-size="10.0" text-anchor="end" textLength="48.35" lengthAdjust="spacingAndGlyphs" fill="#282828">R<tspan font-size="6.20" dy="-3.2">2</tspan><tspan dy="3.2"> = 0.037</tspan></text>
<text x="668.93" y="223.2" font-size="10.0" text-anchor="end" textLength="45.46" lengthAdjust="spacingAndGlyphs" fill="#282828">r = -0.193</text>
<text x="668.93" y="236.9" font-size="10.0" text-anchor="end" textLength="44.24" lengthAdjust="spacingAndGlyphs" fill="#282828">p = 0.245</text>
<text x="354.7" y="195" font-size="10.6" text-anchor="end" font-weight="bold" textLength="11.35" lengthAdjust="spacingAndGlyphs" fill="#282828">e)</text>
<path d="M384.6 513.4H683.9 M384.6 493.04H683.9 M384.6 472.68H683.9 M384.6 452.32H683.9 M384.6 431.97H683.9 M384.6 411.61H683.9 M384.6 391.25H683.9 M396.6 376.5V520.3 M450 376.5V520.3 M503.4 376.5V520.3 M556.8 376.5V520.3 M610.2 376.5V520.3 M663.6 376.5V520.3" stroke="#e0e0e0" stroke-width="0.8" stroke-dasharray="1.1 1.1" fill="none"/>
<g fill="#000" fill-opacity="0.85"><circle cx="438.1" cy="383.1" r="2.35"/><circle cx="434.6" cy="406.6" r="2.35"/><circle cx="450.4" cy="435" r="2.35"/><circle cx="398.3" cy="461.6" r="2.35"/><circle cx="437.2" cy="456.6" r="2.35"/><circle cx="456" cy="485.1" r="2.35"/><circle cx="462.3" cy="413.8" r="2.35"/><circle cx="481.5" cy="421.9" r="2.35"/><circle cx="520.1" cy="417.7" r="2.35"/><circle cx="470.3" cy="434.1" r="2.35"/><circle cx="504.5" cy="437.1" r="2.35"/><circle cx="535.5" cy="436.2" r="2.35"/><circle cx="475.6" cy="441.1" r="2.35"/><circle cx="487.2" cy="453.4" r="2.35"/><circle cx="459.6" cy="455.6" r="2.35"/><circle cx="468.6" cy="455.6" r="2.35"/><circle cx="558.2" cy="449.2" r="2.35"/><circle cx="568.8" cy="448.3" r="2.35"/><circle cx="545.1" cy="457.6" r="2.35"/><circle cx="527.3" cy="459.6" r="2.35"/><circle cx="527.3" cy="468.7" r="2.35"/><circle cx="533.9" cy="467.8" r="2.35"/><circle cx="467.9" cy="462.7" r="2.35"/><circle cx="482.9" cy="468.5" r="2.35"/><circle cx="489.9" cy="466.5" r="2.35"/><circle cx="513.4" cy="476" r="2.35"/><circle cx="507.1" cy="484.1" r="2.35"/><circle cx="496.4" cy="493.2" r="2.35"/><circle cx="503.1" cy="492.1" r="2.35"/><circle cx="537.2" cy="491.3" r="2.35"/><circle cx="554.8" cy="477.1" r="2.35"/><circle cx="559.3" cy="502.3" r="2.35"/><circle cx="574.6" cy="417.5" r="2.35"/><circle cx="632.8" cy="456.6" r="2.35"/><circle cx="592.7" cy="480.9" r="2.35"/><circle cx="608.8" cy="489.3" r="2.35"/><circle cx="610.2" cy="513.7" r="2.35"/><circle cx="670.5" cy="476.9" r="2.35"/></g>
<polygon points="398.1,413.83 402.72,415.53 407.33,417.18 411.95,418.79 416.57,420.37 421.18,421.94 425.8,423.49 430.42,425.04 435.04,426.59 439.65,428.16 444.27,429.73 448.89,431.31 453.5,432.87 458.12,434.41 462.74,435.92 467.35,437.38 471.97,438.8 476.59,440.16 481.21,441.47 485.82,442.74 490.44,443.96 495.06,445.13 499.67,446.26 504.29,447.34 508.91,448.38 513.52,449.38 518.14,450.33 522.76,451.25 527.37,452.13 531.99,452.97 536.61,453.77 541.23,454.54 545.84,455.27 550.46,455.97 555.08,456.64 559.69,457.28 564.31,457.89 568.93,458.47 573.54,459.03 578.16,459.56 582.78,460.06 587.39,460.54 592.01,461 596.63,461.44 601.25,461.86 605.86,462.26 610.48,462.64 615.1,463.01 619.71,463.36 624.33,463.7 628.95,464.03 633.56,464.34 638.18,464.65 642.8,464.95 647.42,465.23 652.03,465.52 656.65,465.79 661.27,466.07 665.88,466.34 670.5,466.6 670.5,512.82 665.88,510.81 661.27,509.17 656.65,507.78 652.03,506.56 647.42,505.4 642.8,504.21 638.18,502.92 633.56,501.55 628.95,500.1 624.33,498.59 619.71,497.02 615.1,495.41 610.48,493.78 605.86,492.13 601.25,490.47 596.63,488.82 592.01,487.19 587.39,485.59 582.78,484.03 578.16,482.52 573.54,481.06 568.93,479.65 564.31,478.3 559.69,476.99 555.08,475.75 550.46,474.55 545.84,473.41 541.23,472.34 536.61,471.31 531.99,470.35 527.37,469.45 522.76,468.6 518.14,467.79 513.52,467.02 508.91,466.29 504.29,465.58 499.67,464.89 495.06,464.21 490.44,463.54 485.82,462.88 481.21,462.2 476.59,461.52 471.97,460.81 467.35,460.08 462.74,459.33 458.12,458.58 453.5,457.89 448.89,457.33 444.27,456.9 439.65,456.59 435.04,456.36 430.42,456.2 425.8,456.08 421.18,455.98 416.57,455.87 411.95,455.74 407.33,455.55 402.72,455.29 398.1,454.92" fill="rgb(255,0,0)" fill-opacity="0.16"/>
<line x1="398.3" y1="435.36" x2="670.5" y2="487.91" stroke="#ff0000" stroke-width="1.7"/>
<path d="M384.6 513.4h2.5 M384.6 493.04h2.5 M384.6 472.68h2.5 M384.6 452.32h2.5 M384.6 431.97h2.5 M384.6 411.61h2.5 M384.6 391.25h2.5 M396.6 520.3v-2.5 M450 520.3v-2.5 M503.4 520.3v-2.5 M556.8 520.3v-2.5 M610.2 520.3v-2.5 M663.6 520.3v-2.5" stroke="#8a8a8a" stroke-width="0.8" fill="none"/>
<path d="M384.6 376.5V520.3H683.9" stroke="#4d4d4d" stroke-width="1" fill="none"/>
<text x="382" y="516.9" font-size="8.2" text-anchor="end" textLength="4.90" lengthAdjust="spacingAndGlyphs" fill="#282828">0</text>
<text x="382" y="496.54" font-size="8.2" text-anchor="end" textLength="9.80" lengthAdjust="spacingAndGlyphs" fill="#282828">20</text>
<text x="382" y="476.18" font-size="8.2" text-anchor="end" textLength="9.80" lengthAdjust="spacingAndGlyphs" fill="#282828">40</text>
<text x="382" y="455.82" font-size="8.2" text-anchor="end" textLength="9.80" lengthAdjust="spacingAndGlyphs" fill="#282828">60</text>
<text x="382" y="435.47" font-size="8.2" text-anchor="end" textLength="9.80" lengthAdjust="spacingAndGlyphs" fill="#282828">80</text>
<text x="382" y="415.11" font-size="8.2" text-anchor="end" textLength="14.70" lengthAdjust="spacingAndGlyphs" fill="#282828">100</text>
<text x="382" y="394.75" font-size="8.2" text-anchor="end" textLength="14.70" lengthAdjust="spacingAndGlyphs" fill="#282828">120</text>
<text x="396.6" y="528.8" font-size="8.2" text-anchor="middle" textLength="12.25" lengthAdjust="spacingAndGlyphs" fill="#282828">1.0</text>
<text x="450" y="528.8" font-size="8.2" text-anchor="middle" textLength="12.25" lengthAdjust="spacingAndGlyphs" fill="#282828">1.5</text>
<text x="503.4" y="528.8" font-size="8.2" text-anchor="middle" textLength="12.25" lengthAdjust="spacingAndGlyphs" fill="#282828">2.0</text>
<text x="556.8" y="528.8" font-size="8.2" text-anchor="middle" textLength="12.25" lengthAdjust="spacingAndGlyphs" fill="#282828">2.5</text>
<text x="610.2" y="528.8" font-size="8.2" text-anchor="middle" textLength="12.25" lengthAdjust="spacingAndGlyphs" fill="#282828">3.0</text>
<text x="663.6" y="528.8" font-size="8.2" text-anchor="middle" textLength="12.25" lengthAdjust="spacingAndGlyphs" fill="#282828">3.5</text>
<text x="534.25" y="373.3" font-size="11.2" text-anchor="middle" textLength="208.62" lengthAdjust="spacingAndGlyphs" fill="#282828">AR Length vs MJO Max Amplitude (6 &amp; 7)</text>
<text x="534.25" y="539.4" font-size="8.5" text-anchor="middle" textLength="85.85" lengthAdjust="spacingAndGlyphs" fill="#282828">Max Amplitude (6 &amp; 7)</text>
<text x="363.9" y="449.2" font-size="8.5" text-anchor="middle" textLength="39.11" lengthAdjust="spacingAndGlyphs" fill="#282828" transform="rotate(-90 363.9 449.2)">AR Length</text>
<text x="668.93" y="390.5" font-size="10.0" text-anchor="end" textLength="48.35" lengthAdjust="spacingAndGlyphs" fill="#282828">R<tspan font-size="6.20" dy="-3.2">2</tspan><tspan dy="3.2"> = 0.165</tspan></text>
<text x="668.93" y="405.6" font-size="10.0" text-anchor="end" textLength="45.46" lengthAdjust="spacingAndGlyphs" fill="#282828">r = -0.406</text>
<text x="668.93" y="419.3" font-size="10.0" text-anchor="end" textLength="44.24" lengthAdjust="spacingAndGlyphs" fill="#282828">p = 0.011</text>
<text x="354.7" y="377.4" font-size="10.6" text-anchor="end" font-weight="bold" textLength="8.92" lengthAdjust="spacingAndGlyphs" fill="#282828">f)</text>
</svg>
</body></html>
